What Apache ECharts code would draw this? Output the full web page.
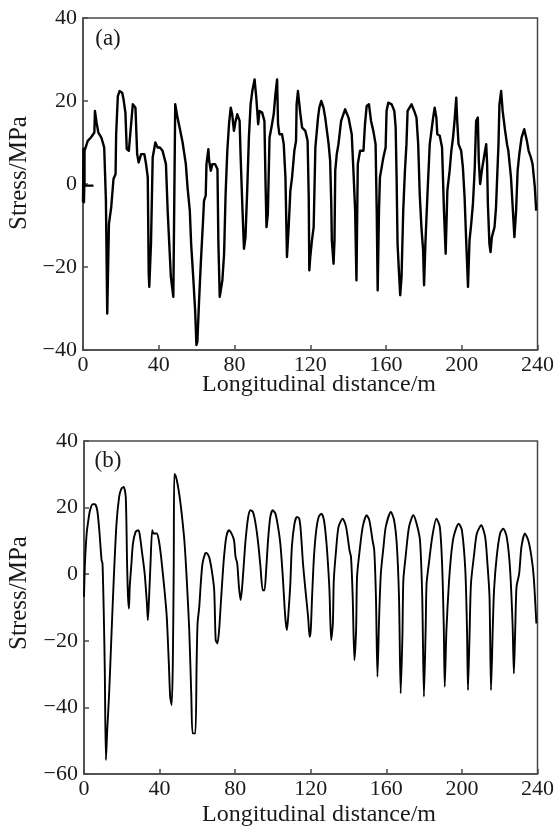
<!DOCTYPE html>
<html><head><meta charset="utf-8">
<script src="https://cdn.jsdelivr.net/npm/echarts@6/dist/echarts.min.js"></script>
<style>html,body{margin:0;padding:0;background:#fff}#c{width:557px;height:836px}</style>
</head><body><div id="c"></div>
<script>
// Panel (a): [longitudinal distance (m), stress (MPa)]
const panelA = [[0,-4.4],[0.25,8.5],[0.5,-4.4],[0.7,-0.4],[5.0,-0.4],[0.8,-0.4],[0.8,8],[2.5,10.4],[4.2,11.2],[6.0,12.4],[6.3,17.6],[7.2,14.7],[8.1,12.4],[9.7,11.2],[11.2,8.8],[12.1,-4],[12.8,-31.2],[13.7,-9.6],[14.9,-5.6],[16.1,1.2],[17.2,2.4],[17.5,12],[18.4,21.2],[19.3,22.4],[20.7,22],[21.4,20.4],[22.4,17.2],[23.1,8.4],[24.2,8],[25.1,12.8],[26.3,19.2],[27.7,18.4],[28.6,7.2],[29.4,5.2],[30.7,7.2],[32.4,7.2],[33.3,4.8],[34.2,1.6],[34.7,-21.6],[35.0,-24.8],[35.9,-14.4],[36.8,6.4],[38.2,10],[39.4,8.8],[40.6,8.8],[42,8],[43.8,4.8],[44.7,-6.4],[46.4,-22.4],[47.7,-27.2],[48.7,19.2],[49.9,16],[51.2,13.2],[52.6,10],[54.3,4.8],[55.2,-0.8],[56.4,-6.4],[57.1,-14.4],[58.2,-22.4],[59.2,-30.4],[59.9,-38.8],[60.4,-38],[61.3,-28],[62.2,-19.2],[63.4,-8.8],[63.9,-4],[64.8,-2.8],[65.2,4.8],[66.2,8.4],[66.6,5.6],[67.5,3.2],[68.3,4.8],[69.7,4.8],[71,3.6],[71.5,-14.4],[72.2,-27.2],[73.6,-23.2],[74.5,-16.8],[75.3,-2.4],[76.2,8],[77.1,14.4],[78,18.4],[78.8,16.8],[79.7,12.8],[80.6,15.2],[81.5,16.8],[82.7,15.2],[83.2,7.2],[84.1,-4.8],[85,-15.6],[85.8,-12.8],[86.7,-1.6],[87.6,11.2],[88.5,19.2],[89.4,22.4],[90.6,25.2],[91.5,20.8],[92.5,14.4],[93.2,17.6],[94.6,17.2],[95.8,15.2],[96.4,0],[96.9,-10.4],[97.6,-7.2],[98.5,11.2],[99.5,13.6],[100.7,16.8],[101.6,21.6],[102.5,25.2],[103,14.4],[103.7,12],[105.1,12],[106,9.6],[106.9,1.6],[107.7,-17.6],[108.6,-10.4],[109.5,-1.6],[110.4,1.6],[111.6,8],[112.5,10.4],[112.8,19.2],[113.5,22.4],[114.8,16.8],[115.7,13.6],[117.4,12.8],[118.6,10.4],[119.2,-3.2],[119.5,-20.8],[120,-17.6],[120.9,-13.6],[121.8,-10.4],[122.7,8.8],[123.5,9.2],[124.1,16],[124.8,18.4],[125.8,20],[127,18.4],[127.9,16],[128.8,16],[129.7,9.6],[130.5,5.6],[131.1,-4.8],[131.4,-13.6],[132.3,-19.2],[132.8,-13.6],[133.2,3.2],[134,7.2],[134.9,9.6],[136.3,15.2],[138.4,18],[139.3,18.4],[140.2,16],[141.9,12],[142.8,3.2],[143.7,-6.4],[144.4,-23.2],[145.1,4.8],[146.3,8],[148.1,8],[148.9,14.4],[149.8,18.8],[151,19.2],[152.1,15.2],[153.3,12.8],[154.5,9.6],[155.1,-6.4],[155.6,-25.6],[156.3,-6.4],[156.8,1.6],[158.6,6.4],[159.8,8.8],[160.3,17.6],[161.2,19.6],[163,19.2],[164.4,17.6],[165.1,13.6],[165.6,1.6],[166.1,-14.4],[166.8,-20.8],[167.5,-26.8],[168.2,-22.4],[169.1,-6.4],[170,3.2],[170.8,9.6],[171.4,17.6],[173.5,19.2],[174.9,17.6],[176.1,16],[177,9.6],[177.8,-2.4],[178.7,-10.4],[179.6,-16],[180.1,-24.4],[180.8,-14.4],[181.9,-2.4],[183.1,9.6],[184,12.8],[184.9,16],[185.7,18.4],[186.6,16],[187.1,12],[188.4,11.6],[189.6,8.8],[190.6,-6.4],[191.5,-16.8],[192.4,-1.6],[193.6,3.2],[194.5,8],[195.4,11.2],[196.2,15.2],[197.1,20.8],[197.6,15.2],[198.3,9.6],[199.7,8],[200.6,4],[201.5,-3.2],[202.4,-14.4],[203.3,-24.8],[204.1,-13.6],[205,-9.6],[205.9,-4.8],[206.8,3.2],[207.6,15.2],[208.5,16],[209,5.6],[209.7,0],[210.6,3.2],[212,7.2],[212.9,9.6],[213.4,4.8],[213.8,-4.8],[214.6,-14.4],[215.2,-16.4],[215.9,-12.8],[217.3,-10.4],[218.1,-5.6],[218.7,1.6],[219.4,9.6],[219.9,19.2],[220.8,22.4],[221.6,17.6],[222.9,12.8],[223.9,9.6],[224.6,8],[226,1.6],[226.9,-5.6],[227.8,-12.8],[228.7,-6.4],[229.5,3.2],[230.4,7.2],[231.6,11.2],[233,13.2],[234.4,10.4],[235.3,8],[236.5,6.4],[237.4,4.8],[238.6,-0.8],[239.3,-6.4]];

// Panel (b): [longitudinal distance (m), stress (MPa)]
const panelB = [[0,-6.8],[0.5,3.2],[1.4,12.2],[2.3,16.2],[3.2,19.2],[4.6,21],[5.8,21],[7.0,19.2],[8.1,13.2],[9.3,4.2],[9.8,3.2],[10.5,-12.8],[11.0,-28.8],[11.6,-55.8],[12.3,-46.8],[13.3,-35.8],[14.5,-18.8],[15.8,-0.8],[17.2,15.2],[18.6,23.2],[19.8,25.7],[21.0,26.2],[22.1,23.2],[22.8,3.2],[23.3,-6.8],[23.8,-10.3],[24.2,-3.8],[25.1,3.2],[25.9,9.2],[27.3,12.7],[28.6,13.2],[29.4,12.2],[30.8,6.2],[32.1,0.2],[33.3,-8.8],[33.8,-13.8],[34.3,-8.8],[35.2,3.2],[36.1,13.2],[36.8,12.2],[38.5,12.2],[39.6,10.2],[40.8,5.2],[42.6,-4.8],[43.8,-12.8],[44.9,-26.8],[45.6,-36.8],[46.4,-39.3],[47.0,-26.8],[47.5,3.2],[47.8,30.2],[48.7,29.2],[50.1,25.2],[51.3,20.2],[53.1,10.2],[54.3,-0.8],[55.7,-16.8],[56.8,-36.8],[57.5,-47.8],[58.9,-47.8],[59.6,-26.8],[60.1,-14.8],[61.0,-9.8],[61.8,-2.8],[62.7,3.2],[64.1,6.2],[64.8,6.4],[66.2,5.2],[67.6,1.2],[68.9,-4.8],[69.7,-19.8],[70.6,-20.8],[71.5,-16.8],[72.4,-8.8],[73.2,-1.8],[74.1,5.2],[75.3,11.2],[76.7,13.2],[78.1,12.2],[79.4,10.2],[80.2,5.2],[81.1,3.2],[82.0,-3.8],[82.9,-7.8],[83.7,-3.8],[84.6,3.2],[85.5,10.2],[86.9,17.2],[88.1,19.2],[89.4,18.7],[90.8,15.2],[92.2,9.2],[93.4,2.2],[94.6,-4.8],[95.5,-4.8],[96.4,1.2],[97.4,10.2],[98.6,17.2],[99.9,19.2],[101.3,18.2],[102.7,14.2],[103.9,9.2],[105.1,0.2],[106.5,-12.8],[107.4,-16.8],[108.3,-10.8],[109.2,-2.8],[110.0,8.2],[111.4,15.2],[112.7,17.2],[113.9,16.7],[114.7,13.2],[115.9,3.2],[117.2,-4.8],[118.6,-12.8],[119.4,-18.8],[120.0,-16.8],[120.7,-6.8],[121.7,5.2],[122.9,13.2],[124.2,17.2],[125.6,18.2],[127.0,16.2],[128.2,10.2],[129.1,3.2],[129.9,-4.8],[130.8,-19.8],[131.7,-14.8],[132.2,-1.8],[133.4,7.2],[134.7,14.2],[136.9,16.7],[138.7,14.2],[140.5,7.2],[141.3,5.2],[142.2,-6.8],[143.1,-25.8],[144.0,-16.8],[144.5,-0.8],[145.7,6.2],[147.5,14.2],[149.6,17.7],[151.0,16.2],[152.7,10.2],[153.6,7.2],[154.5,-6.8],[155.3,-30.8],[156.2,-12.8],[157.1,0.2],[158.5,8.2],[159.7,14.2],[162.4,18.7],[164.1,16.2],[165.5,9.2],[166.7,-6.8],[167.6,-35.8],[168.5,-18.8],[169.0,-1.8],[170.2,5.2],[172.0,14.2],[174.3,17.7],[176.0,15.2],[177.8,10.2],[179.0,-6.8],[179.9,-36.8],[180.8,-16.8],[181.3,-2.8],[182.5,3.2],[184.3,11.2],[186.5,16.7],[188.3,14.2],[189.5,3.2],[190.4,-15.8],[190.9,-33.8],[191.8,-16.8],[193.0,-3.8],[194.2,5.2],[195.6,11.2],[198.3,15.2],[200.0,13.2],[201.8,1.2],[202.7,-16.8],[203.2,-34.8],[204.1,-16.8],[204.8,-2.8],[206.5,6.2],[207.9,12.2],[210.2,14.7],[212.3,11.2],[213.5,3.2],[214.6,-6.8],[215.4,-34.8],[216.3,-16.8],[217.0,-4.8],[218.4,5.2],[220.2,12.2],[221.9,13.7],[223.7,11.2],[225.4,2.2],[226.8,-14.8],[227.5,-29.8],[228.2,-16.8],[228.9,-3.8],[230.3,0.2],[231.5,8.2],[233.3,12.2],[235.1,10.2],[236.8,5.2],[238.0,-0.8],[239.4,-14.8]];

const xRange = {min: 0, max: 240, step: 40};
const yRangeA = {min: -40, max: 40, step: 20};
const yRangeB = {min: -60, max: 40, step: 20};
const xTitle = 'Longitudinal distance/m';
const yTitle = 'Stress/MPa';
const panelLabels = ['(a)', '(b)'];

const FONT = '"Liberation Serif", "DejaVu Serif", serif';
const AX = '#4a4a4a';
const TXT = '#1a1a1a';
const fmt = v => v < 0 ? '\u2212' + Math.abs(v) : String(v);

function mkX(gi) {
  return {
    type: 'value', gridIndex: gi, min: xRange.min, max: xRange.max, interval: xRange.step,
    axisLine: {show: true, onZero: false, lineStyle: {color: AX, width: 1.5}},
    axisTick: {show: true, inside: true, length: 5, lineStyle: {color: AX, width: 1.5}},
    axisLabel: {fontFamily: FONT, fontSize: 22, color: TXT, margin: 4, showMinLabel: true, showMaxLabel: true},
    splitLine: {show: false}
  };
}
function mkY(gi, r) {
  return {
    type: 'value', gridIndex: gi, min: r.min, max: r.max, interval: r.step,
    axisLine: {show: true, onZero: false, lineStyle: {color: AX, width: 1.5}},
    axisTick: {show: true, inside: true, length: 5, lineStyle: {color: AX, width: 1.5}},
    axisLabel: {fontFamily: FONT, fontSize: 22, color: TXT, margin: 6, formatter: fmt, showMinLabel: true, showMaxLabel: true},
    splitLine: {show: false}
  };
}
function txt(text, x, y, size, rot) {
  return {type: 'text', x: x, y: y, rotation: rot || 0,
    style: {text: text, font: size + 'px ' + FONT, fill: TXT, textAlign: 'center', textVerticalAlign: 'middle'}};
}

const chart = echarts.init(document.getElementById('c'), null, {renderer: 'canvas'});
chart.setOption({
  animation: false,
  backgroundColor: '#fff',
  grid: [
    {left: 83, top: 18, width: 457, height: 332, show: true, borderColor: AX, borderWidth: 1.5, backgroundColor: 'transparent'},
    {left: 84, top: 441, width: 456, height: 333, show: true, borderColor: AX, borderWidth: 1.5, backgroundColor: 'transparent'}
  ],
  xAxis: [mkX(0), mkX(1)],
  yAxis: [mkY(0, yRangeA), mkY(1, yRangeB)],
  graphic: [
    txt(panelLabels[0], 108, 39, 23),
    txt(panelLabels[1], 108, 461, 23),
    txt(xTitle, 319, 385, 24),
    txt(xTitle, 319, 815, 24),
    txt(yTitle, 19, 173, 25, Math.PI / 2),
    txt(yTitle, 19, 593, 25, Math.PI / 2)
  ],
  series: [
    {type: 'line', xAxisIndex: 0, yAxisIndex: 0, data: panelA, showSymbol: false, symbol: 'none',
     lineStyle: {color: '#000', width: 2.4, join: 'round'}, clip: true},
    {type: 'line', xAxisIndex: 1, yAxisIndex: 1, data: panelB, showSymbol: false, symbol: 'none', smooth: 0.25,
     lineStyle: {color: '#000', width: 1.9}, clip: true}
  ]
});
</script></body></html>
